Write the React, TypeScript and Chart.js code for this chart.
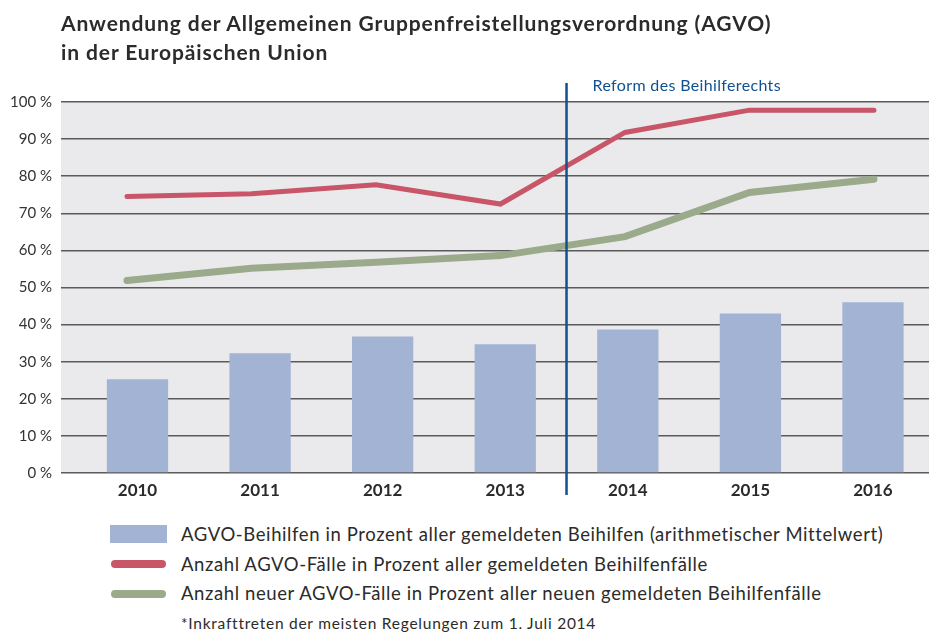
import React, { useEffect, useRef } from "react";
import { Chart, registerables } from "chart.js";

Chart.register(...registerables);

const years = ["2010", "2011", "2012", "2013", "2014", "2015", "2016"];
const beihilfenShare = [25.3, 32.3, 36.8, 34.7, 38.7, 43.0, 46.0];
const agvoCases = [74.5, 75.3, 77.7, 72.5, 91.8, 97.8, 97.8];
const newAgvoCases = [51.9, 55.2, 56.8, 58.6, 63.7, 75.6, 79.2];
const yTicks = [0, 10, 20, 30, 40, 50, 60, 70, 80, 90, 100];
const reformPosition = 3.5;

const titleLines = [
  "Anwendung der Allgemeinen Gruppenfreistellungsverordnung (AGVO)",
  "in der Europäischen Union",
];
const reformLabel = "Reform des Beihilferechts";
const legendLabels = [
  "AGVO-Beihilfen in Prozent aller gemeldeten Beihilfen (arithmetischer Mittelwert)",
  "Anzahl AGVO-Fälle in Prozent aller gemeldeten Beihilfenfälle",
  "Anzahl neuer AGVO-Fälle in Prozent aller neuen gemeldeten Beihilfenfälle",
];
const footnote = "*Inkrafttreten der meisten Regelungen zum 1. Juli 2014";

const FONT = "Lato, 'Open Sans', sans-serif";
const BAR_COLOR = "#a2b3d4";
const RED = "#c85568";
const GREEN = "#9aaa8b";
const BLUE = "#0f5191";
const TEXT = "#2b2b2b";

const W = 929;
const CANVAS_H = 510;
const PLOT_BOTTOM = 473;

export default function App() {
  const canvasRef = useRef<HTMLCanvasElement | null>(null);

  useEffect(() => {
    if (!canvasRef.current) return;

    const backgroundPlugin = {
      id: "plotBackground",
      beforeDraw(chart: any) {
        const { ctx, chartArea } = chart;
        ctx.save();
        ctx.fillStyle = "#eaeaed";
        ctx.fillRect(chartArea.left, chartArea.top, chartArea.right - chartArea.left, chartArea.bottom - chartArea.top);
        ctx.restore();
      },
    };

    const reformPlugin = {
      id: "reformLine",
      afterDatasetsDraw(chart: any) {
        const { ctx, chartArea } = chart;
        const x = chart.scales.x.getPixelForValue(reformPosition);
        ctx.save();
        ctx.strokeStyle = BLUE;
        ctx.lineWidth = 2.5;
        ctx.beginPath();
        ctx.moveTo(x, chartArea.top - 19);
        ctx.lineTo(x, chartArea.bottom + 22);
        ctx.stroke();
        ctx.fillStyle = BLUE;
        ctx.font = `16px ${FONT}`;
        (ctx as any).letterSpacing = "0.35px";
        ctx.textBaseline = "alphabetic";
        ctx.textAlign = "left";
        ctx.fillText(reformLabel, x + 26, chartArea.top - 11);
        ctx.restore();
      },
    };

    const chart = new Chart(canvasRef.current, {
      type: "bar",
      data: {
        datasets: [
          {
            type: "line",
            label: legendLabels[1],
            data: agvoCases.map((v, i) => ({ x: i, y: v })),
            xAxisID: "xl",
            yAxisID: "y",
            borderColor: RED,
            borderWidth: 5,
            borderCapStyle: "round",
            borderJoinStyle: "miter",
            pointRadius: 0,
            tension: 0,
            order: 1,
          } as any,
          {
            type: "line",
            label: legendLabels[2],
            data: newAgvoCases.map((v, i) => ({ x: i, y: v })),
            xAxisID: "xl",
            yAxisID: "y",
            borderColor: GREEN,
            borderWidth: 7,
            borderCapStyle: "round",
            borderJoinStyle: "miter",
            pointRadius: 0,
            tension: 0,
            order: 2,
          } as any,
          {
            type: "bar",
            label: legendLabels[0],
            data: beihilfenShare.map((v, i) => ({ x: i, y: v })),
            xAxisID: "x",
            yAxisID: "y",
            backgroundColor: BAR_COLOR,
            grouped: false,
            barPercentage: 0.5,
            categoryPercentage: 1,
            order: 3,
          } as any,
        ],
      },
      options: {
        responsive: false,
        animation: false,
        events: [],
        layout: { padding: { top: 102, left: 0, right: 0, bottom: 0 } },
        plugins: {
          legend: { display: false },
          title: { display: false },
          tooltip: { enabled: false },
        },
        scales: {
          x: {
            type: "linear",
            min: -0.624,
            max: 6.457,
            offset: false,
            grid: { display: false, drawTicks: false },
            border: { display: false },
            afterBuildTicks(scale: any) {
              scale.ticks = years.map((_, i) => ({ value: i }));
            },
            afterFit(scale: any) {
              scale.height = CANVAS_H - PLOT_BOTTOM;
            },
            ticks: {
              autoSkip: false,
              maxRotation: 0,
              padding: 7,
              color: TEXT,
              font: { family: FONT, size: 17, weight: "bold" },
              callback: (v: any) => years[Math.round(Number(v))] ?? "",
            },
          } as any,
          xl: {
            type: "linear",
            display: false,
            min: -0.53,
            max: 6.442,
            offset: false,
          } as any,
          y: {
            type: "linear",
            min: 0,
            max: 100,
            afterBuildTicks(scale: any) {
              scale.ticks = yTicks.map((v) => ({ value: v }));
            },
            afterFit(scale: any) {
              scale.width = 61;
            },
            grid: { color: "#5a5a5a", lineWidth: 1.5, drawTicks: false },
            border: { display: false },
            ticks: {
              padding: 9,
              color: "#333333",
              font: { family: FONT, size: 15 },
              callback: (v: any) => `${v} %`,
            },
          } as any,
        },
      },
      plugins: [backgroundPlugin, reformPlugin],
    });

    return () => chart.destroy();
  }, []);

  const legendMarker = (i: number) => {
    if (i === 0) {
      return <div style={{ position: "absolute", left: 110, top: 525, width: 57, height: 18, background: BAR_COLOR }} />;
    }
    const color = i === 1 ? RED : GREEN;
    const cy = i === 1 ? 564 : 594;
    return (
      <div
        style={{ position: "absolute", left: 111, top: cy - 4, width: 55, height: 8, borderRadius: 4, background: color }}
      />
    );
  };

  return (
    <div style={{ position: "absolute", left: 0, top: 0, width: W, height: 632, background: "#ffffff", fontFamily: FONT, overflow: "hidden" }}>
      <canvas ref={canvasRef} width={W} height={CANVAS_H} style={{ position: "absolute", left: 0, top: 0, width: W, height: CANVAS_H }} />
      <div style={{ position: "absolute", left: 61, top: 8, fontSize: 21, fontWeight: 700, lineHeight: "29px", letterSpacing: "0.9px", color: TEXT, whiteSpace: "nowrap" }}>
        {titleLines.map((t) => (
          <div key={t}>{t}</div>
        ))}
      </div>
      {legendLabels.map((label, i) => (
        <React.Fragment key={label}>
          {legendMarker(i)}
          <div style={{ position: "absolute", left: 181, top: 523 + i * 29.5, fontSize: 18.5, lineHeight: "22px", letterSpacing: "0.6px", color: TEXT, whiteSpace: "nowrap" }}>
            {label}
          </div>
        </React.Fragment>
      ))}
      <div style={{ position: "absolute", left: 181, top: 613, fontSize: 15.5, lineHeight: "20px", letterSpacing: "0.75px", color: TEXT, whiteSpace: "nowrap" }}>
        {footnote}
      </div>
    </div>
  );
}
